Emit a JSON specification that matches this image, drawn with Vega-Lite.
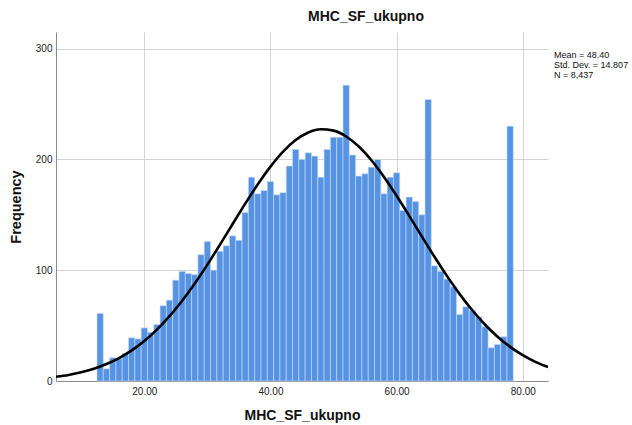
{
  "$schema": "https://vega.github.io/schema/vega-lite/v6.json",
  "autosize": {"type": "none"},
  "padding": {"left": 56, "top": 32, "right": 84, "bottom": 44},
  "width": 492,
  "height": 349,
  "background": "white",
  "config": {
    "font": "Liberation Sans",
    "view": {"stroke": null},
    "axis": {
      "labelFont": "Liberation Sans",
      "titleFont": "Liberation Sans",
      "labelColor": "#222222",
      "titleColor": "#111111",
      "gridColor": "#d4d4d4",
      "gridWidth": 1,
      "domainColor": "#8c8c8c",
      "ticks": false
    }
  },
  "title": {
    "text": "MHC_SF_ukupno",
    "font": "Liberation Sans",
    "fontSize": 14,
    "fontWeight": "bold",
    "color": "#111111",
    "anchor": "middle",
    "dx": 64,
    "offset": 8
  },
  "datasets": {
    "bars": [
      {"lo": 12.5, "hi": 13.5, "n": 61}, {"lo": 13.5, "hi": 14.5, "n": 11}, {"lo": 14.5, "hi": 15.5, "n": 21},
      {"lo": 15.5, "hi": 16.5, "n": 20}, {"lo": 16.5, "hi": 17.5, "n": 25}, {"lo": 17.5, "hi": 18.5, "n": 39},
      {"lo": 18.5, "hi": 19.5, "n": 38}, {"lo": 19.5, "hi": 20.5, "n": 48}, {"lo": 20.5, "hi": 21.5, "n": 44},
      {"lo": 21.5, "hi": 22.5, "n": 51}, {"lo": 22.5, "hi": 23.5, "n": 68}, {"lo": 23.5, "hi": 24.5, "n": 73},
      {"lo": 24.5, "hi": 25.5, "n": 91}, {"lo": 25.5, "hi": 26.5, "n": 99}, {"lo": 26.5, "hi": 27.5, "n": 97},
      {"lo": 27.5, "hi": 28.5, "n": 96}, {"lo": 28.5, "hi": 29.5, "n": 114}, {"lo": 29.5, "hi": 30.5, "n": 126},
      {"lo": 30.5, "hi": 31.5, "n": 100}, {"lo": 31.5, "hi": 32.5, "n": 117}, {"lo": 32.5, "hi": 33.5, "n": 122},
      {"lo": 33.5, "hi": 34.5, "n": 131}, {"lo": 34.5, "hi": 35.5, "n": 127}, {"lo": 35.5, "hi": 36.5, "n": 152},
      {"lo": 36.5, "hi": 37.5, "n": 184}, {"lo": 37.5, "hi": 38.5, "n": 169}, {"lo": 38.5, "hi": 39.5, "n": 172},
      {"lo": 39.5, "hi": 40.5, "n": 180}, {"lo": 40.5, "hi": 41.5, "n": 168}, {"lo": 41.5, "hi": 42.5, "n": 170},
      {"lo": 42.5, "hi": 43.5, "n": 194}, {"lo": 43.5, "hi": 44.5, "n": 209}, {"lo": 44.5, "hi": 45.5, "n": 200},
      {"lo": 45.5, "hi": 46.5, "n": 206}, {"lo": 46.5, "hi": 47.5, "n": 203}, {"lo": 47.5, "hi": 48.5, "n": 184},
      {"lo": 48.5, "hi": 49.5, "n": 209}, {"lo": 49.5, "hi": 50.5, "n": 220}, {"lo": 50.5, "hi": 51.5, "n": 220},
      {"lo": 51.5, "hi": 52.5, "n": 267}, {"lo": 52.5, "hi": 53.5, "n": 204}, {"lo": 53.5, "hi": 54.5, "n": 185},
      {"lo": 54.5, "hi": 55.5, "n": 187}, {"lo": 55.5, "hi": 56.5, "n": 193}, {"lo": 56.5, "hi": 57.5, "n": 200},
      {"lo": 57.5, "hi": 58.5, "n": 169}, {"lo": 58.5, "hi": 59.5, "n": 184}, {"lo": 59.5, "hi": 60.5, "n": 188},
      {"lo": 60.5, "hi": 61.5, "n": 154}, {"lo": 61.5, "hi": 62.5, "n": 166}, {"lo": 62.5, "hi": 63.5, "n": 162},
      {"lo": 63.5, "hi": 64.5, "n": 150}, {"lo": 64.5, "hi": 65.5, "n": 254}, {"lo": 65.5, "hi": 66.5, "n": 104},
      {"lo": 66.5, "hi": 67.5, "n": 99}, {"lo": 67.5, "hi": 68.5, "n": 92}, {"lo": 68.5, "hi": 69.5, "n": 85},
      {"lo": 69.5, "hi": 70.5, "n": 60}, {"lo": 70.5, "hi": 71.5, "n": 67}, {"lo": 71.5, "hi": 72.5, "n": 64},
      {"lo": 72.5, "hi": 73.5, "n": 58}, {"lo": 73.5, "hi": 74.5, "n": 49}, {"lo": 74.5, "hi": 75.5, "n": 30},
      {"lo": 75.5, "hi": 76.5, "n": 33}, {"lo": 76.5, "hi": 77.5, "n": 40}, {"lo": 77.5, "hi": 78.5, "n": 230}
    ],
    "curve": [
      {"x": 6, "f": 3.77}, {"x": 8, "f": 5.50}, {"x": 10, "f": 7.87}, {"x": 12, "f": 11.08},
      {"x": 14, "f": 15.30}, {"x": 16, "f": 20.74}, {"x": 18, "f": 27.62}, {"x": 20, "f": 36.12},
      {"x": 22, "f": 46.37}, {"x": 24, "f": 58.47}, {"x": 26, "f": 72.38}, {"x": 28, "f": 87.98},
      {"x": 30, "f": 105.02}, {"x": 32, "f": 123.09}, {"x": 34, "f": 141.66}, {"x": 36, "f": 160.07},
      {"x": 38, "f": 177.61}, {"x": 40, "f": 193.52}, {"x": 42, "f": 207.03}, {"x": 44, "f": 217.48},
      {"x": 46, "f": 224.33}, {"x": 48, "f": 227.22}, {"x": 50, "f": 225.98}, {"x": 52, "f": 220.68},
      {"x": 54, "f": 211.61}, {"x": 56, "f": 199.24}, {"x": 58, "f": 184.22}, {"x": 60, "f": 167.24},
      {"x": 62, "f": 149.07}, {"x": 64, "f": 130.48}, {"x": 66, "f": 112.16}, {"x": 68, "f": 94.65},
      {"x": 70, "f": 78.43}, {"x": 72, "f": 63.82}, {"x": 74, "f": 50.99}, {"x": 76, "f": 40.00},
      {"x": 78, "f": 30.82}, {"x": 80, "f": 23.31}, {"x": 82, "f": 17.32}, {"x": 84, "f": 12.63}
    ],
    "stats": [
      {"stat": "Mean = 48.40"},
      {"stat": "Std. Dev. = 14.807"},
      {"stat": "N = 8,437"}
    ]
  },
  "layer": [
    {
      "data": {"name": "bars"},
      "mark": {"type": "bar", "color": "#5793e3", "stroke": "#c9dcf6", "strokeWidth": 0.6, "orient": "vertical"},
      "encoding": {
        "x": {
          "field": "lo", "type": "quantitative",
          "scale": {"domain": [6, 84], "nice": false, "zero": false, "padding": 0},
          "axis": {
            "values": [20, 40, 60, 80], "format": ".2f", "labelFontSize": 10,
            "labelPadding": 5, "title": "MHC_SF_ukupno", "titleFontSize": 14,
            "titleFontWeight": "bold", "titlePadding": 12
          }
        },
        "x2": {"field": "hi"},
        "y": {
          "field": "n", "type": "quantitative",
          "scale": {"domain": [0, 315], "nice": false, "padding": 0},
          "axis": {
            "values": [0, 100, 200, 300], "labelFontSize": 10, "labelPadding": 4,
            "title": "Frequency", "titleFontSize": 14.5, "titleFontWeight": "bold",
            "titlePadding": 12
          }
        },
        "y2": {"datum": 0}
      }
    },
    {
      "data": {"name": "curve"},
      "mark": {"type": "line", "color": "black", "strokeWidth": 2.6, "interpolate": "monotone", "clip": true},
      "encoding": {
        "x": {"field": "x", "type": "quantitative"},
        "y": {"field": "f", "type": "quantitative"}
      }
    },
    {
      "data": {"name": "stats"},
      "mark": {"type": "point", "opacity": 0},
      "encoding": {
        "color": {
          "field": "stat", "type": "nominal", "sort": null,
          "scale": {"range": ["#000000", "#000000", "#000000"]},
          "legend": {
            "orient": "none", "legendX": 489, "legendY": 18, "title": null,
            "symbolSize": 0, "symbolOpacity": 0, "symbolStrokeWidth": 0,
            "labelOffset": 0, "labelFontSize": 9, "labelFont": "Liberation Sans",
            "labelColor": "#111111", "labelLimit": 200, "rowPadding": 0, "padding": 0
          }
        }
      }
    }
  ]
}
